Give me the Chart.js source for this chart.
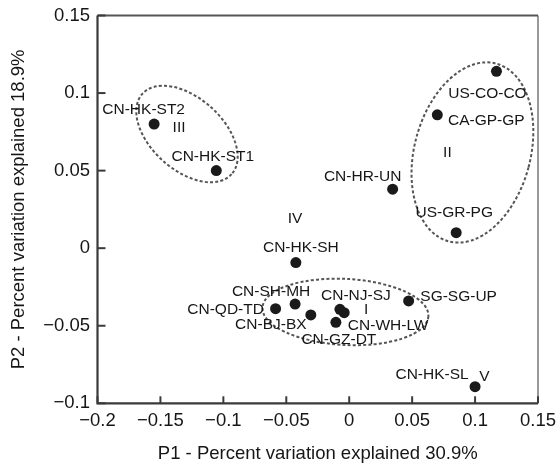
<!DOCTYPE html>
<html><head><meta charset="utf-8">
<script src="https://cdn.jsdelivr.net/npm/chart.js@4/dist/chart.umd.min.js"></script>
<style>html,body{margin:0;padding:0;background:#fff;} canvas{display:block;}</style>
</head><body>
<canvas id="c" width="557" height="468" style="width:557px;height:468px"></canvas>
<script>
// ---- data ----
const sampleNames = ['CN-HK-ST2','CN-HK-ST1','US-CO-CO','CA-GP-GP','CN-HR-UN','US-GR-PG','CN-HK-SH','CN-SH-MH','CN-QD-TD','CN-BJ-BX','CN-NJ-SJ','CN-WH-LW','CN-GZ-DT','SG-SG-UP','CN-HK-SL'];
const p1Values = [-0.155,-0.1056,0.117,0.070,0.0345,0.085,-0.0424,-0.043,-0.0585,-0.0305,-0.0074,-0.004,-0.0106,0.0472,0.100];
const p2Values = [0.080,0.050,0.114,0.086,0.038,0.010,-0.0093,-0.036,-0.039,-0.043,-0.0394,-0.0416,-0.0478,-0.034,-0.0893];
const groupNames = ['I','II','III','IV','V'];
const groupP1 = [0.0135,0.078,-0.1352,-0.043,0.1074];
const groupP2 = [-0.0398,0.0614,0.0775,0.0188,-0.083];
const xTitle = 'P1 - Percent variation explained 30.9%';
const yTitle = 'P2 - Percent variation explained 18.9%';

// ---- layout / decoration (not data) ----
const labelOffsets = [[-10.5,-14],[-3.5,-13.5],[-9,22],[49,6],[-30,-13],[-2,-20],[5,-15],[-24,-12.5],[-50,1],[-40,10],[16,-14],[44,13],[3,17],[50,-4],[-43,-12]];
const clusterEllipses = [
  {cx:-0.003, cy:-0.0411, rx:0.066, ry:0.0213, angle:3},
  {cx:0.0979, cy:0.0617, rx:0.0461, ry:0.0593, angle:15},
  {cx:-0.1289, cy:0.0736, rx:0.0477, ry:0.0232, angle:42}
];
const FONT = "'Liberation Sans', Arial, Helvetica, sans-serif";
const TXT = '#161616';

function fmt(v){
  const r = Math.round(v*100)/100;
  return (r<0?'\u2212':'') + String(Math.abs(r));
}
function noOverflow(s){ s.paddingLeft = 0; s.paddingRight = 0; s.paddingTop = 0; s.paddingBottom = 0; }

const decor = {
  id:'decor',
  beforeDatasetsDraw(chart){
    const {ctx, scales:{x,y}} = chart;
    ctx.save();
    ctx.setLineDash([3,2.2]);
    ctx.strokeStyle = '#555';
    ctx.lineWidth = 2;
    clusterEllipses.forEach(e=>{
      const cx = x.getPixelForValue(e.cx), cy = y.getPixelForValue(e.cy);
      const rx = Math.abs(x.getPixelForValue(e.cx+e.rx)-cx);
      const ry = Math.abs(y.getPixelForValue(e.cy+e.ry)-cy);
      ctx.beginPath();
      ctx.ellipse(cx,cy,rx,ry,e.angle*Math.PI/180,0,Math.PI*2);
      ctx.stroke();
    });
    ctx.restore();
  },
  afterDatasetsDraw(chart){
    const {ctx, scales:{x,y}, chartArea:a} = chart;
    const meta = chart.getDatasetMeta(0);
    ctx.save();
    ctx.fillStyle = TXT;
    ctx.font = "15.5px " + FONT;
    ctx.textAlign = 'center';
    ctx.textBaseline = 'middle';
    meta.data.forEach((pt,i)=>{
      const o = labelOffsets[i];
      ctx.fillText(sampleNames[i], pt.x+o[0], pt.y+o[1]);
    });
    groupNames.forEach((g,i)=>{
      ctx.fillText(g, x.getPixelForValue(groupP1[i]), y.getPixelForValue(groupP2[i]));
    });
    // frame
    ctx.setLineDash([]);
    ctx.lineWidth = 1.5; ctx.strokeStyle = '#777';
    ctx.beginPath(); ctx.moveTo(a.right, a.top); ctx.lineTo(a.right, a.bottom); ctx.stroke();
    ctx.lineWidth = 2; ctx.strokeStyle = '#555';
    ctx.beginPath(); ctx.moveTo(a.left, a.top); ctx.lineTo(a.right, a.top); ctx.stroke();
    ctx.lineWidth = 2.2; ctx.strokeStyle = '#3a3a3a';
    ctx.beginPath(); ctx.moveTo(a.left, a.top); ctx.lineTo(a.left, a.bottom); ctx.lineTo(a.right, a.bottom); ctx.stroke();
    // inward ticks
    ctx.lineWidth = 2;
    x.ticks.forEach(t=>{
      const px = x.getPixelForValue(t.value);
      ctx.beginPath(); ctx.moveTo(px, a.bottom); ctx.lineTo(px, a.bottom-7); ctx.stroke();
    });
    y.ticks.forEach(t=>{
      const py = y.getPixelForValue(t.value);
      ctx.beginPath(); ctx.moveTo(a.left, py); ctx.lineTo(a.left+8, py); ctx.stroke();
    });
    ctx.restore();
  }
};

new Chart(document.getElementById('c'), {
  type:'scatter',
  data:{ datasets:[{
    data: p1Values.map((v,i)=>({x:v, y:p2Values[i]})),
    pointRadius:5.5, pointHoverRadius:5.5,
    backgroundColor:'#1a1a1a', borderColor:'#1a1a1a', borderWidth:0
  }]},
  options:{
    responsive:false, animation:false, devicePixelRatio:1,
    layout:{padding:{top:15.5,right:19,left:0,bottom:0}},
    plugins:{legend:{display:false}, tooltip:{enabled:false}},
    scales:{
      x:{
        type:'linear', min:-0.2, max:0.15,
        ticks:{stepSize:0.05, callback:fmt, font:{family:FONT,size:18.5}, color:TXT, padding:7, maxRotation:0, autoSkip:false},
        grid:{display:false, drawTicks:false}, border:{display:false},
        title:{display:true, text:xTitle, font:{family:FONT,size:18.5}, color:TXT, padding:{top:0,bottom:3}},
        afterFit(s){ s.height = 64.7; noOverflow(s); }
      },
      y:{
        type:'linear', min:-0.1, max:0.15,
        ticks:{stepSize:0.05, callback:fmt, font:{family:FONT,size:18.5}, color:TXT, padding:7.5, autoSkip:false},
        grid:{display:false, drawTicks:false}, border:{display:false},
        title:{display:true, text:yTitle, font:{family:FONT,size:18.5}, color:TXT, padding:{top:8,bottom:0}},
        afterFit(s){ s.width = 97.5; noOverflow(s); }
      }
    }
  },
  plugins:[decor]
});
</script>
</body></html>
